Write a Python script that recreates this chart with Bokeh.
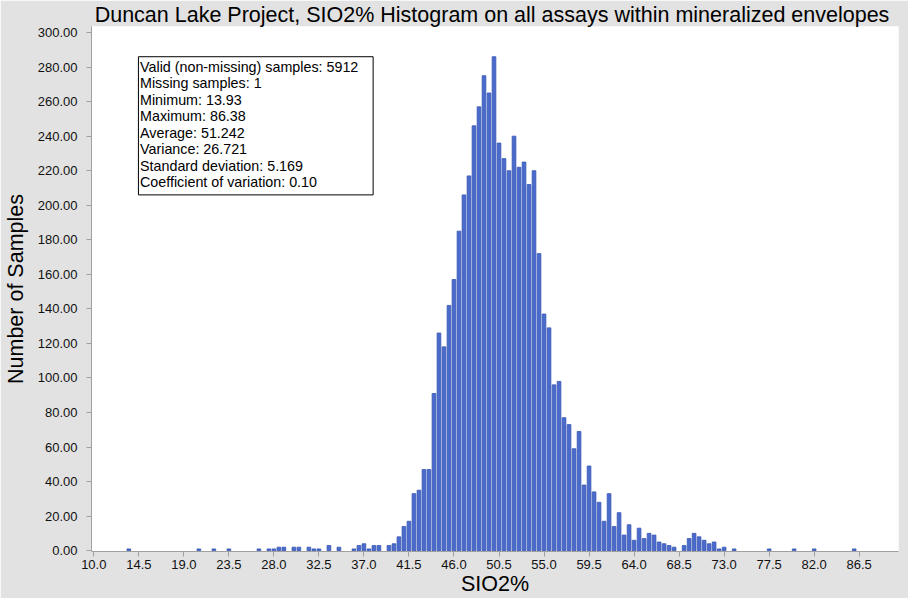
from bokeh.plotting import figure
from bokeh.models import (Range1d, FixedTicker, NumeralTickFormatter, BoxAnnotation,
                          Label, ColumnDataSource)
from bokeh.embed import file_html
from bokeh.resources import INLINE

# ---- data (bin position -> number of samples)
bin_centers = [13.5, 20.5, 22.0, 23.5, 26.5, 27.5, 28.0, 28.5, 29.0, 30.0, 30.5,
               31.5, 32.0, 32.5, 33.5, 34.5, 36.0, 36.5, 37.0, 37.5, 38.0, 38.5,
               39.5, 40.0, 40.5, 41.0, 41.5, 42.0, 42.5, 43.0, 43.5, 44.0, 44.5,
               45.0, 45.5, 46.0, 46.5, 47.0, 47.5, 48.0, 48.5, 49.0, 49.5, 50.0,
               50.5, 51.0, 51.5, 52.0, 52.5, 53.0, 53.5, 54.0, 54.5, 55.0, 55.5,
               56.0, 56.5, 57.0, 57.5, 58.0, 58.5, 59.0, 59.5, 60.0, 60.5, 61.0,
               61.5, 62.0, 62.5, 63.0, 63.5, 64.0, 64.5, 65.0, 65.5, 66.0, 66.5,
               67.0, 67.5, 68.0, 69.0, 69.5, 70.0, 70.5, 71.0, 71.5, 72.0, 72.5,
               73.0, 74.0, 77.5, 80.0, 82.0, 86.0]
counts = [1, 1, 1, 1, 1, 1, 1, 2, 2, 2, 2,
          2, 1, 1, 3, 2, 1, 3, 4, 1, 3, 3,
          3, 4, 8, 14, 17, 33, 35, 47, 47, 91, 126,
          118, 142, 157, 185, 206, 217, 246, 257, 275, 265, 286,
          236, 227, 220, 240, 222, 225, 212, 220, 172, 137, 129,
          96, 98, 77, 73, 59, 69, 38, 49, 34, 28, 17,
          33, 14, 22, 9, 15, 6, 13, 7, 10, 9, 5,
          4, 3, 2, 3, 7, 10, 8, 6, 4, 5, 1,
          2, 1, 1, 1, 1, 1]

x_ticks = [10.0, 14.5, 19.0, 23.5, 28.0, 32.5, 37.0, 41.5, 46.0, 50.5, 55.0,
           59.5, 64.0, 68.5, 73.0, 77.5, 82.0, 86.5]
y_ticks = [0, 20, 40, 60, 80, 100, 120, 140, 160, 180, 200, 220, 240, 260, 280, 300]

stats_lines = [
    "Valid (non-missing) samples: 5912",
    "Missing samples: 1",
    "Minimum: 13.93",
    "Maximum: 86.38",
    "Average: 51.242",
    "Variance: 26.721",
    "Standard deviation: 5.169",
    "Coefficient of variation: 0.10",
]

title_text = "Duncan Lake Project, SIO2% Histogram on all  assays within mineralized envelopes"
x_label = "SIO2%"
y_label = "Number of Samples"

FONT = "Liberation Sans"
GRAY = "#e2e2e2"

p = figure(width=908, height=598, output_backend="svg", toolbar_location=None,
           x_range=Range1d(9.77, 90.43), y_range=Range1d(-0.5, 303.5),
           min_border_left=89, min_border_right=10, min_border_top=25,
           min_border_bottom=47)

p.background_fill_color = "white"
p.border_fill_color = GRAY
p.outline_line_color = None
p.grid.visible = False

src = ColumnDataSource(dict(x=bin_centers, top=counts))
p.vbar(x="x", top="top", bottom=0, width=0.37, source=src,
       fill_color="#4a6bcc", line_color="#3a58b4", line_width=0.8)

# title
p.title.text = title_text
p.title.align = "center"
p.title.text_font = FONT
p.title.text_font_size = "21.5px"
p.title.text_font_style = "normal"
p.title.text_color = "black"
p.title.standoff = 0
p.title.text_line_height = 0.9

for ax in (p.xaxis[0], p.yaxis[0]):
    ax.axis_line_color = "#a0a0a0"
    ax.major_tick_line_color = "#a0a0a0"
    ax.minor_tick_line_color = None
    ax.major_tick_out = 5
    ax.major_tick_in = 0
    ax.major_label_text_font = FONT
    ax.major_label_text_font_size = "13px"
    ax.major_label_text_color = "#111111"
    ax.axis_label_text_font = FONT
    ax.axis_label_text_font_size = "21.5px"
    ax.axis_label_text_font_style = "normal"
    ax.axis_label_text_color = "black"

p.xaxis[0].ticker = FixedTicker(ticks=x_ticks)
p.xaxis[0].formatter = NumeralTickFormatter(format="0.0")
p.xaxis[0].axis_label = x_label
p.xaxis[0].major_label_standoff = 3
p.xaxis[0].axis_label_standoff = 0

p.yaxis[0].ticker = FixedTicker(ticks=y_ticks)
p.yaxis[0].formatter = NumeralTickFormatter(format="0.00")
p.yaxis[0].axis_label = y_label
p.yaxis[0].major_label_standoff = 9
p.yaxis[0].axis_label_standoff = 7

# statistics box
box = BoxAnnotation(left=14.46, right=37.92, top=286.0, bottom=206.0,
                    fill_color="white", fill_alpha=1.0, line_color="black",
                    line_alpha=1.0, line_width=1, level="overlay")
p.add_layout(box)
stats = Label(x=14.62, y=284.8, text="\n".join(stats_lines), text_font=FONT,
              text_font_size="14.3px", text_color="black", text_align="left",
              text_baseline="top", text_line_height=1.03, level="overlay")
p.add_layout(stats)

open("out.html", "w").write(file_html(p, INLINE))
